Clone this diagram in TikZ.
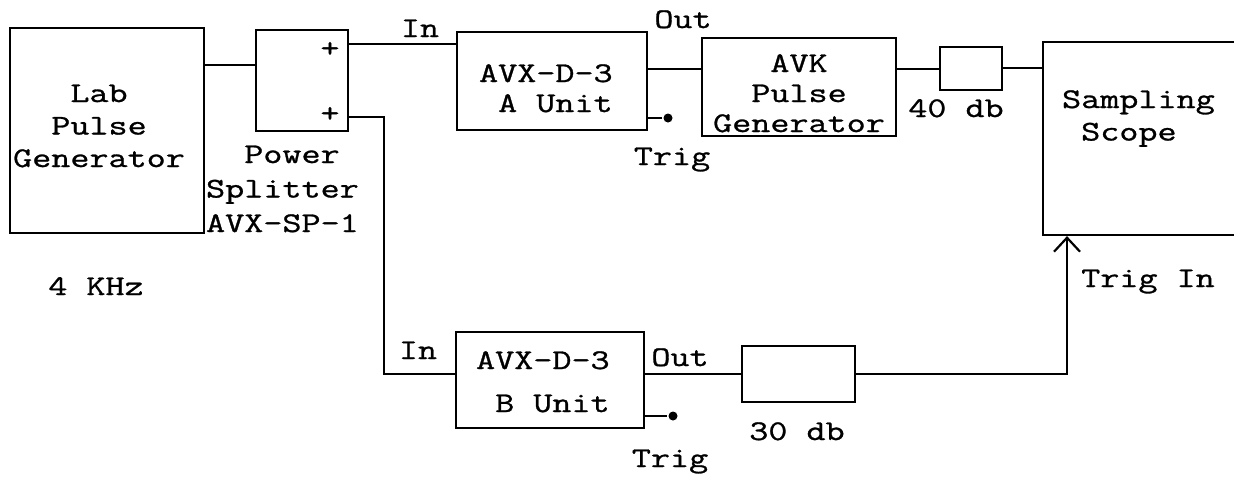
\documentclass[tikz,border=0pt]{standalone}
\usepackage{fontspec}
\usetikzlibrary{arrows.meta}
\newfontfamily\tw[FakeStretch=1.3,FakeBold=1]{Latin Modern Mono}
\begin{document}
\begin{tikzpicture}[x=1pt,y=-1pt,line width=2.2pt,
  box/.style={draw,rectangle,inner sep=0pt},
  txt/.style={font=\tw\fontsize{28.5}{32.5}\selectfont,inner sep=0pt},
  dot/.style={circle,fill,inner sep=0pt,minimum size=9pt},
  tip/.style={-{Straight Barb[length=14pt,width=26pt]}}]
\fill[white] (0,0) rectangle (1234,477);
\useasboundingbox (0,0) rectangle (1234,477);
% boxes
\node[box,minimum width=194pt,minimum height=205pt] (lab) at (107,130.5) {};
\node[box,minimum width=92pt,minimum height=101pt] (split) at (302,80.5) {};
\node[box,minimum width=190pt,minimum height=98pt] (unitA) at (552,81) {};
\node[box,minimum width=194pt,minimum height=98pt] (avk) at (799,87) {};
\node[box,minimum width=62pt,minimum height=43pt] (att40) at (971,68.5) {};
\node[box,minimum width=257pt,minimum height=193pt] (scope) at (1171.5,138.5) {};
\node[box,minimum width=188pt,minimum height=96pt] (unitB) at (550,380) {};
\node[box,minimum width=113pt,minimum height=56pt] (att30) at (798.5,374) {};
% box texts
\node[txt,anchor=base] (labtxt) at (99,102) {\begin{tabular}[t]{@{}c@{}}Lab\\Pulse\\Generator\end{tabular}};
\node[txt,anchor=base west] (splittxt) at (205,163) {\begin{tabular}[t]{@{}l@{}}\ \ Power\\[2pt]Splitter\\[2pt]AVX-SP-1\end{tabular}};
\node[txt,anchor=base west] (atxt) at (478,82) {\begin{tabular}[t]{@{}l@{}}AVX-D-3\\[-2.5pt]\ A Unit\end{tabular}};
\node[txt,anchor=base] (avktxt) at (799,72) {\begin{tabular}[t]{@{}c@{}}AVK\\[-2.5pt]Pulse\\[-2.5pt]Generator\end{tabular}};
\node[txt,anchor=base west] (scopetxt) at (1061,108) {\begin{tabular}[t]{@{}l@{}}Sampling\\\ Scope\end{tabular}};
\node[txt,anchor=base west] (btxt) at (475,369) {\begin{tabular}[t]{@{}l@{}}AVX-D-3\\[10.5pt]\ B Unit\end{tabular}};
% labels
\node[txt,anchor=base] (freq) at (96,295) {4 KHz};
\node[txt,anchor=base] (plus1) at (330,57) {+};
\node[txt,anchor=base] (plus2) at (330,122) {+};
\node[txt,anchor=base] (inA) at (420,37) {In};
\node[txt,anchor=base] (outA) at (683,28) {Out};
\node[txt,anchor=base] (trigAl) at (672,165) {Trig};
\node[txt,anchor=base] (db40) at (956,117) {40 db};
\node[txt,anchor=base] (trigin) at (1148,287) {Trig In};
\node[txt,anchor=base] (inB) at (418,359) {In};
\node[txt,anchor=base] (outB) at (680,366) {Out};
\node[txt,anchor=base] (trigBl) at (670,467) {Trig};
\node[txt,anchor=base] (db30) at (797,440) {30 db};
% trigger stubs
\node[dot] (trigA) at (668,118) {};
\node[dot] (trigB) at (673,416) {};
\coordinate (bend) at (384,374);
% connectors
\draw (lab.east |- 0,65) -- (split.west |- 0,65);
\draw (split.east |- 0,44) -- (unitA.west |- 0,44);
\draw (split.east |- 0,117) -| (bend) -- (unitB.west |- bend);
\draw (unitA.east |- 0,69) -- (avk.west |- 0,69);
\draw (avk.east |- 0,69) -- (att40.west |- 0,69);
\draw (att40.east |- 0,68) -- (scope.west |- 0,68);
\draw (unitA.east |- trigA) -- (trigA);
\draw (unitB.east |- trigB) -- (trigB);
\draw (unitB.east |- att30.west) -- (att30.west);
\draw[tip] (att30.east) -| (scope.south -| 1067,0);
\end{tikzpicture}
\end{document}
